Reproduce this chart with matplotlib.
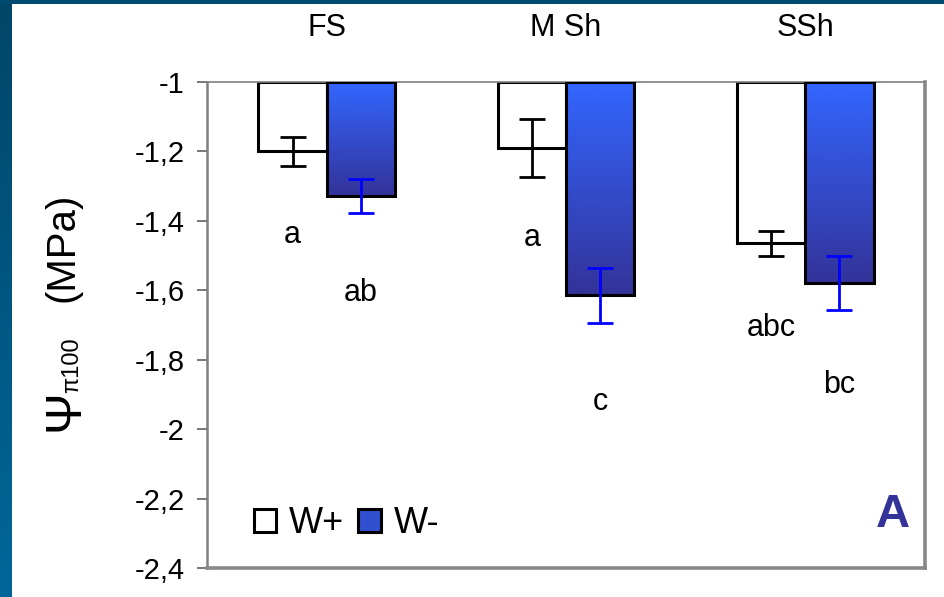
import numpy as np
import matplotlib
matplotlib.use("Agg")
import matplotlib.pyplot as plt
from matplotlib.patches import Patch
from matplotlib.ticker import FuncFormatter
from matplotlib.colors import LinearSegmentedColormap

plt.rcParams['font.family'] = ['Liberation Sans', 'DejaVu Sans']

# data
sites = ["FS", "M Sh", "SSh"]
w_plus = [-1.20, -1.19, -1.464]
w_plus_err = [0.043, 0.084, 0.036]
w_minus = [-1.328, -1.614, -1.579]
w_minus_err = [0.049, 0.079, 0.079]
letters_plus = ["a", "a", "abc"]
letters_minus = ["ab", "c", "bc"]
letters_plus_y = [-1.44, -1.45, -1.709]
letters_minus_y = [-1.608, -1.922, -1.873]
yticks = [-1, -1.2, -1.4, -1.6, -1.8, -2, -2.2, -2.4]

fig = plt.figure(figsize=(9.44, 5.97), dpi=100)
fig.patch.set_facecolor("white")

# blue slide border (left gradient band + top band)
border = fig.add_axes([0, 0, 12 / 944, 1])
border.imshow(np.linspace(0, 1, 256).reshape(-1, 1), aspect="auto",
              cmap=LinearSegmentedColormap.from_list("b", ["#004668", "#00679a"]))
border.axis("off")
topband = fig.add_axes([0, 1 - 4 / 597, 1, 4 / 597])
topband.set_facecolor("#004a70")
topband.set_xticks([])
topband.set_yticks([])
for s in topband.spines.values():
    s.set_visible(False)

ax = fig.add_axes([207 / 944, 1 - 568 / 597, 718 / 944, 486 / 597])
x = np.arange(len(sites))
width = 0.285
base = -1

grad = LinearSegmentedColormap.from_list("g", ["#3366ff", "#333399"])

bars_p = ax.bar(x - width / 2, np.array(w_plus) - base, width, bottom=base,
                color="white", edgecolor="black", linewidth=2.2, zorder=2)
bars_m = ax.bar(x + width / 2, np.array(w_minus) - base, width, bottom=base,
                color="none", edgecolor="black", linewidth=2.2, zorder=3)
for b in bars_m:
    x0 = b.get_x()
    y1 = b.get_y() + b.get_height()
    im = ax.imshow(np.linspace(0, 1, 256).reshape(-1, 1), cmap=grad, aspect="auto",
                   extent=(x0, x0 + b.get_width(), y1, base), zorder=2.5)
    im.set_clip_path(b)

ax.errorbar(x - width / 2, w_plus, yerr=w_plus_err, fmt="none", ecolor="black",
            elinewidth=2, capsize=9.5, capthick=2, zorder=4)
ax.errorbar(x + width / 2, w_minus, yerr=w_minus_err, fmt="none", ecolor="#0000ff",
            elinewidth=2, capsize=9.5, capthick=2, zorder=4)

for i in range(len(sites)):
    ax.text(x[i] - width / 2, letters_plus_y[i], letters_plus[i], ha="center",
            va="center", fontsize=22)
    ax.text(x[i] + width / 2, letters_minus_y[i], letters_minus[i], ha="center",
            va="center", fontsize=22)

ax.set_xlim(-0.5, 2.5)
ax.set_ylim(-2.4, -1)
ax.set_yticks(yticks)
ax.yaxis.set_major_formatter(FuncFormatter(lambda v, p: ("%g" % round(v, 1)).replace(".", ",")))
ax.tick_params(axis="y", length=7, width=1.2, color="#606060", pad=9, labelsize=21)
ax.xaxis.tick_top()
ax.set_xticks(x)
ax.set_xticklabels(sites)
ax.tick_params(axis="x", length=0, pad=28, labelsize=22)

ax.spines["left"].set_color("#808080")
ax.spines["left"].set_linewidth(1.8)
ax.spines["top"].set_color("#808080")
ax.spines["top"].set_linewidth(1.2)
for s in ["right", "bottom"]:
    ax.spines[s].set_color("#888888")
    ax.spines[s].set_linewidth(2.6)

handles = [Patch(facecolor="white", edgecolor="black", linewidth=2.2, label="W+"),
           Patch(facecolor="#3050d0", edgecolor="black", linewidth=2.2, label="W-")]
ax.legend(handles=handles, loc="lower left", bbox_to_anchor=(0.045, 0.025), ncol=2,
          frameon=False, fontsize=26, handlelength=0.62, handleheight=0.62,
          handletextpad=0.35, columnspacing=0.4, borderaxespad=0)

ax.text(0.955, 0.11, "A", transform=ax.transAxes, ha="center", va="center",
        fontsize=34, fontweight="bold", color="#333399")

# y label: Psi with subscript, then unit
fig.text(65 / 944, 1 - 410 / 597, "Ψ", rotation=90, ha="center", va="center", fontsize=36)
fig.text(72 / 944, 1 - 365 / 597, "π100", rotation=90, ha="center", va="center", fontsize=17)
fig.text(63 / 944, 1 - 247 / 597, "(MPa)", rotation=90, ha="center", va="center", fontsize=29)

fig.savefig("out.png", dpi=100)
